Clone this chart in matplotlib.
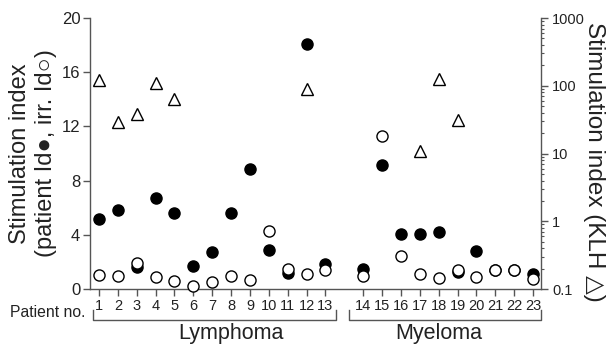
import matplotlib
matplotlib.use("Agg")
import matplotlib.pyplot as plt
import matplotlib.transforms as mtransforms

plt.rcParams['font.family'] = ['Liberation Sans', 'DejaVu Sans']

# patient numbers and their slot on the x axis (gap between the two groups)
patients = list(range(1, 24))
slots = list(range(1, 14)) + list(range(15, 25))

# stimulation index, patient Id (filled) and irrelevant Id (open)
si_patient_id = [5.2, 5.8, 1.65, 6.7, 5.6, 1.7, 2.74, 5.6, 8.85, 2.9, 1.2, 18.05,
                 1.83, 1.5, 9.15, 4.05, 4.05, 4.22, 1.28, 2.81, 1.38, 1.4, 1.09]
si_irr_id = [1.06, 0.96, 1.93, 0.86, 0.59, 0.2, 0.52, 0.96, 0.69, 4.3, 1.5, 1.13,
             1.43, 1.0, 11.28, 2.44, 1.09, 0.79, 1.43, 0.89, 1.43, 1.43, 0.77]

# KLH stimulation index (log axis), only where measured
klh_patients = [1, 2, 3, 4, 5, 12, 17, 18, 19]
klh_si = [120, 29.5, 38, 110, 64, 90, 11, 126, 31]

groups = ["Lymphoma", "Myeloma"]
group_span = [(0.68, 13.56), (14.25, 24.43)]
group_text_x = [8.0, 19.0]

ink = "#222222"
axis_col = "#555555"

fig = plt.figure(figsize=(6.14, 3.47), dpi=100)
ax = fig.add_axes([0.1466, 0.167, 0.7345, 0.781])
ax2 = ax.twinx()

slot_of = dict(zip(patients, slots))

ax.plot(slots, si_patient_id, "o", ms=8, mfc="black", mec="black",
        clip_on=False, zorder=3)
ax.plot(slots, si_irr_id, "o", ms=8, mfc="white", mec="black", mew=1.0,
        clip_on=False, zorder=4)
ax2.plot([slot_of[p] for p in klh_patients], klh_si, "^", ms=8.5, mfc="white",
         mec="black", mew=1.0, clip_on=False)

ax.set_xlim(0.525, 24.42)
ax.set_ylim(0, 20)
ax2.set_yscale("log")
ax2.set_ylim(0.1, 1000)

for a in (ax, ax2):
    a.spines["top"].set_visible(False)
    for s in a.spines.values():
        s.set_color(axis_col)
        s.set_linewidth(1.0)
ax.spines["right"].set_visible(False)
ax2.spines["left"].set_visible(False)
ax2.spines["bottom"].set_visible(False)

ax.set_yticks([0, 4, 8, 12, 16, 20])
ax.tick_params(axis="y", direction="out", length=5, width=1, color=axis_col,
               labelsize=12, labelcolor=ink, pad=2)
ax.set_xticks(slots)
ax.set_xticklabels([str(p) for p in patients])
ax.tick_params(axis="x", direction="out", length=5, width=1, color=axis_col,
               labelsize=10.5, labelcolor=ink, pad=2)

ax2.set_yticks([0.1, 1, 10, 100, 1000])
ax2.set_yticklabels(["0.1", "1", "10", "100", "1000"])
ax2.tick_params(axis="y", which="major", direction="out", length=5, width=1,
                color=axis_col, labelsize=10.5, labelcolor=ink, pad=3)
ax2.tick_params(axis="y", which="minor", direction="out", length=2.5,
                width=0.8, color=axis_col)

ax.set_ylabel("Stimulation index\n(patient Id\u25cf, irr. Id\u25cb)", fontsize=17,
              color=ink, linespacing=1.2)
ax.yaxis.set_label_coords(-0.074, 0.5)
ax2.set_ylabel("Stimulation index (KLH \u25b3)", fontsize=17.5, color=ink,
               rotation=270, va="center")
ax2.yaxis.set_label_coords(1.117, 0.47)

trans = mtransforms.blended_transform_factory(ax.transData, ax.transAxes)
ax.text(0.3, -0.06, "Patient no.", transform=trans, ha="right", va="top",
        fontsize=11.3, color=ink)

for name, (x0, x1), tx in zip(groups, group_span, group_text_x):
    ax.plot([x0, x0, x1, x1], [-0.078, -0.115, -0.115, -0.078], color=axis_col,
            lw=1.0, transform=trans, clip_on=False)
    ax.text(tx, -0.125, name, transform=trans, ha="center", va="top",
            fontsize=15.5, color=ink)

fig.savefig("out.png", dpi=100)
